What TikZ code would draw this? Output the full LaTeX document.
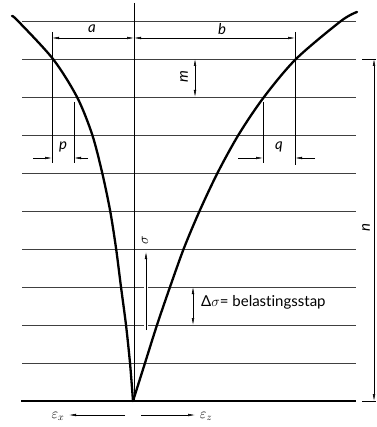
\documentclass[tikz,border=0pt]{standalone}
\usepackage{fontspec}
\setmainfont{Lato}[Ligatures={NoCommon,NoRare,NoContextual}]
\usetikzlibrary{arrows.meta}
\begin{document}
\begin{tikzpicture}[x=1pt,y=-1pt,
  hline/.style={line width=0.7pt, draw=black!75},
  curve/.style={line width=2.3pt, line join=round, line cap=round},
  dimline/.style={line width=0.5pt},
  tipend/.style={-{Latex[length=7pt,width=2.6pt]}},
  bothtips/.style={{Latex[length=7pt,width=2.6pt]}-{Latex[length=7pt,width=2.6pt]}},
  lbl/.style={font=\fontsize{15}{17}\selectfont\itshape, inner sep=0pt},
]
\useasboundingbox (0,0) rectangle (376,427);
% horizontal lines
\foreach \k in {0,...,9} {
  \draw[hline] (22,21+38*\k) -- (356,21+38*\k);
}
\draw[line width=1.4pt] (21,401) -- (356,401);
% axis
\draw[line width=0.9pt] (134,3) -- (134,401);
% curves
\draw[curve] plot[smooth] coordinates {(12,16) (18,21) (53,59) (77,97) (92,134) (102,172) (110,210) (116,248) (121,287) (126,325) (130,363) (133,401)};
\draw[curve] plot[smooth] coordinates {(133,401) (145,363) (157,325) (170,287) (184,248) (200,210) (218,172) (239,134) (264,97) (296,59) (341,21) (357,12)};
% extension lines
\draw[dimline] (52,32) -- (52,163);
\draw[dimline] (74,102) -- (74,163);
\draw[dimline] (295,32) -- (295,165);
\draw[dimline] (263,102) -- (263,163);
% a and b
\draw[dimline,bothtips] (52,38) -- (134,38);
\draw[dimline,bothtips] (134,38) -- (295,38);
\node[lbl] (la) at (92,29) {a};
\node[lbl] (lb) at (222,29) {b};
% m
\draw[dimline,bothtips] (195,59) -- (195,97);
\node[lbl,rotate=90] (lm) at (184,77) {m};
% p and q
\draw[dimline,tipend] (33,158) -- (52,158);
\draw[dimline,tipend] (88,158) -- (74,158);
\node[lbl] (lp) at (63,147) {p};
\draw[dimline,tipend] (238,158) -- (263,158);
\draw[dimline,tipend] (315,158) -- (295,158);
\node[lbl] (lq) at (279,147) {q};
% n
\draw[dimline] (362,59) -- (376,59);
\draw[dimline] (362,401) -- (376,401);
\draw[dimline,bothtips] (374,59) -- (374,401);
\node[lbl,rotate=90] (ln) at (366,228) {n};
% sigma arrow
\draw[dimline,tipend,preaction={draw=white,line width=4pt,-}] (146,330) -- (146,252);
\node[inner sep=0pt,rotate=90,font=\fontsize{14}{16}\selectfont] (ls) at (145,240) {$\sigma$};
% delta sigma
\draw[dimline,bothtips] (193,287) -- (193,325);
\node[anchor=west,inner sep=0pt,font=\fontsize{15}{17}\selectfont] (ld) at (201,302) {Δ$\sigma$= belastingsstap};
% epsilon arrows
\draw[dimline,tipend] (125,415) -- (69,415);
\draw[dimline,tipend] (141,415) -- (195,415);
\node[inner sep=0pt,font=\fontsize{14}{16}\selectfont] (ex) at (58,416) {$\varepsilon_x$};
\node[inner sep=0pt,font=\fontsize{14}{16}\selectfont] (ez) at (206,416) {$\varepsilon_z$};
\end{tikzpicture}
\end{document}
